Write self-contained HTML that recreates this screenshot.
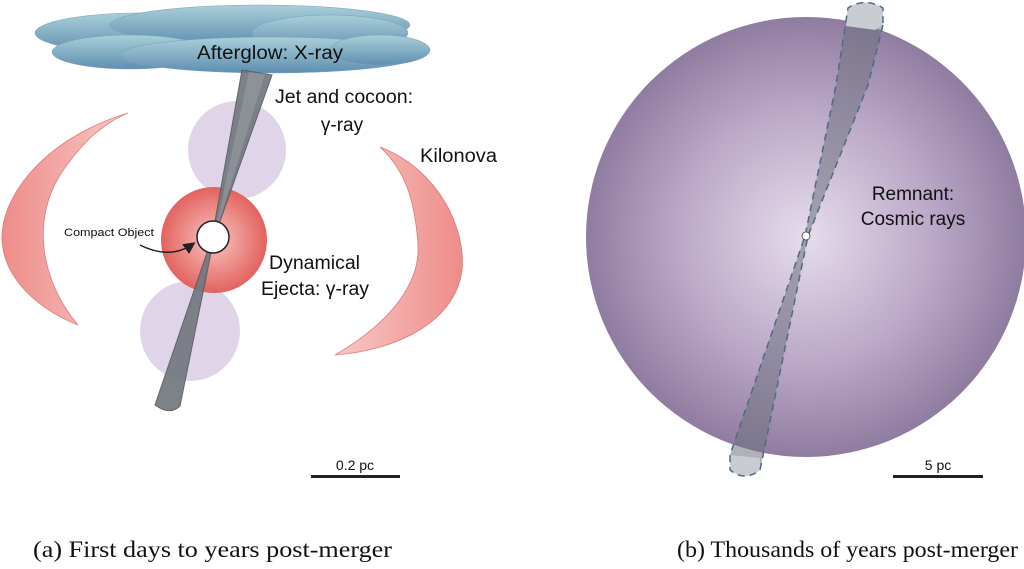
<!DOCTYPE html>
<html><head><meta charset="utf-8"><style>
html,body{margin:0;padding:0;background:#fff;width:1024px;height:569px;overflow:hidden}
svg{display:block}
</style></head><body>
<svg width="1024" height="569" viewBox="0 0 1024 569" xmlns="http://www.w3.org/2000/svg">
<defs>
<radialGradient id="big" cx="0.5" cy="0.5" r="0.5">
<stop offset="0" stop-color="#e6dcec"/><stop offset="0.6" stop-color="#b9a6c6"/><stop offset="1" stop-color="#8f7ca0"/>
</radialGradient>
<radialGradient id="red" cx="0.5" cy="0.5" r="0.5">
<stop offset="0.3" stop-color="#f3a8a4"/><stop offset="1" stop-color="#e2625e"/>
</radialGradient>
<linearGradient id="kilo" x1="0" y1="0" x2="1" y2="0">
<stop offset="0" stop-color="#ee8c89"/><stop offset="1" stop-color="#f8c9c6"/>
</linearGradient>
<linearGradient id="kilo2" x1="1" y1="0" x2="0" y2="0">
<stop offset="0" stop-color="#ee8c89"/><stop offset="1" stop-color="#f8c9c6"/>
</linearGradient>
<linearGradient id="cloud" x1="0" y1="0" x2="0" y2="1">
<stop offset="0" stop-color="#a9cfd9"/><stop offset="1" stop-color="#5f8fb0"/>
</linearGradient>
<marker id="ah" markerWidth="8" markerHeight="8" refX="6" refY="4" orient="auto"><path d="M0,0 L8,4 L0,8 Z" fill="#222"/></marker>
</defs>

<g fill="url(#cloud)" stroke="#7aa0b8" stroke-width="0.5">
<ellipse cx="140" cy="33" rx="105" ry="20"/>
<ellipse cx="260" cy="25" rx="150" ry="20"/>
<ellipse cx="330" cy="33" rx="78" ry="18"/>
<ellipse cx="130" cy="52" rx="78" ry="17"/>
<ellipse cx="270" cy="55" rx="150" ry="18"/>
<ellipse cx="380" cy="50" rx="50" ry="15"/>
</g>

<path d="M128,113 C40,140 0,200 2,240 C4,280 40,310 78,325 C40,280 32,220 60,175 C80,145 100,125 128,113 Z" fill="url(#kilo)" stroke="#e07a77" stroke-width="0.8"/>
<path d="M380,147 C440,170 466,230 462,270 C456,320 400,350 335,355 C395,320 420,280 418,245 C415,200 405,170 380,147 Z" fill="url(#kilo2)" stroke="#e07a77" stroke-width="0.8"/>

<circle cx="237" cy="150" r="49" fill="#ddd0e6" opacity="0.9"/>
<circle cx="190" cy="331" r="50" fill="#ddd0e6" opacity="0.9"/>
<circle cx="214" cy="240" r="53" fill="url(#red)"/>

<path d="M242,70 L272,75 L214,238 L180,406 Q170,416 155,405 L212,238 Z" fill="#737880" stroke="#55595f" stroke-width="1" opacity="0.92"/>
<path d="M249,72 L265,74 L214,238 Z" fill="#9da1a6" opacity="0.5"/>

<circle cx="213" cy="237" r="16" fill="#fff" stroke="#222" stroke-width="1.5"/>
<path d="M140,245 Q170,260 193,244" fill="none" stroke="#222" stroke-width="1.5" marker-end="url(#ah)"/>

<g font-family="Liberation Sans, sans-serif" fill="#111">
<text x="197" y="59" font-size="19" textLength="146" lengthAdjust="spacingAndGlyphs">Afterglow: X-ray</text>
<text x="275" y="103" font-size="19" textLength="138" lengthAdjust="spacingAndGlyphs">Jet and cocoon:</text>
<text x="342" y="131" font-size="19" text-anchor="middle">γ-ray</text>
<text x="420" y="162" font-size="19" textLength="77" lengthAdjust="spacingAndGlyphs">Kilonova</text>
<text x="269" y="269" font-size="19" textLength="91" lengthAdjust="spacingAndGlyphs">Dynamical</text>
<text x="261" y="295" font-size="19" textLength="108" lengthAdjust="spacingAndGlyphs">Ejecta: γ-ray</text>
<text x="64" y="236" font-size="11" textLength="90" lengthAdjust="spacingAndGlyphs">Compact Object</text>
<text x="355" y="470" font-size="14" text-anchor="middle">0.2 pc</text>
<text x="938" y="470" font-size="14" text-anchor="middle">5 pc</text>
</g>
<rect x="311" y="475" width="89" height="3" fill="#222"/>
<rect x="893" y="475" width="90" height="3" fill="#222"/>

<circle cx="806" cy="237" r="220" fill="url(#big)"/>
<path d="M848,8 Q865,-3 883,8 L883,25 L868,85 L808,236 L760,470 Q745,482 730,470 L730,455 L805,236 L836,85 Z" fill="#6e7380" opacity="0.55"/>
<path d="M848,8 Q865,-3 883,8 L883,25 L875,30 L846,26 Z" fill="#c9ccd0"/>
<path d="M730,455 L760,458 L760,470 Q745,482 730,470 Z" fill="#c9ccd0"/>
<path d="M883,25 L868,85 L808,236 L760,470 Q745,482 730,470 L730,455 L805,236 L836,85 L848,8 Q865,-3 883,8 Z" fill="none" stroke="#4f6a85" stroke-width="1.5" stroke-dasharray="7,5"/>
<circle cx="806" cy="236" r="4" fill="#fff" stroke="#444" stroke-width="0.8"/>
<g font-family="Liberation Sans, sans-serif" fill="#111" font-size="19" text-anchor="middle">
<text x="913" y="200">Remnant:</text>
<text x="913" y="225">Cosmic rays</text>
</g>

<g font-family="Liberation Serif, serif" fill="#111" font-size="23">
<text x="33" y="557" textLength="359" lengthAdjust="spacingAndGlyphs">(a) First days to years post-merger</text>
<text x="677" y="557" textLength="341" lengthAdjust="spacingAndGlyphs">(b) Thousands of years post-merger</text>
</g>
</svg>
</body></html>
